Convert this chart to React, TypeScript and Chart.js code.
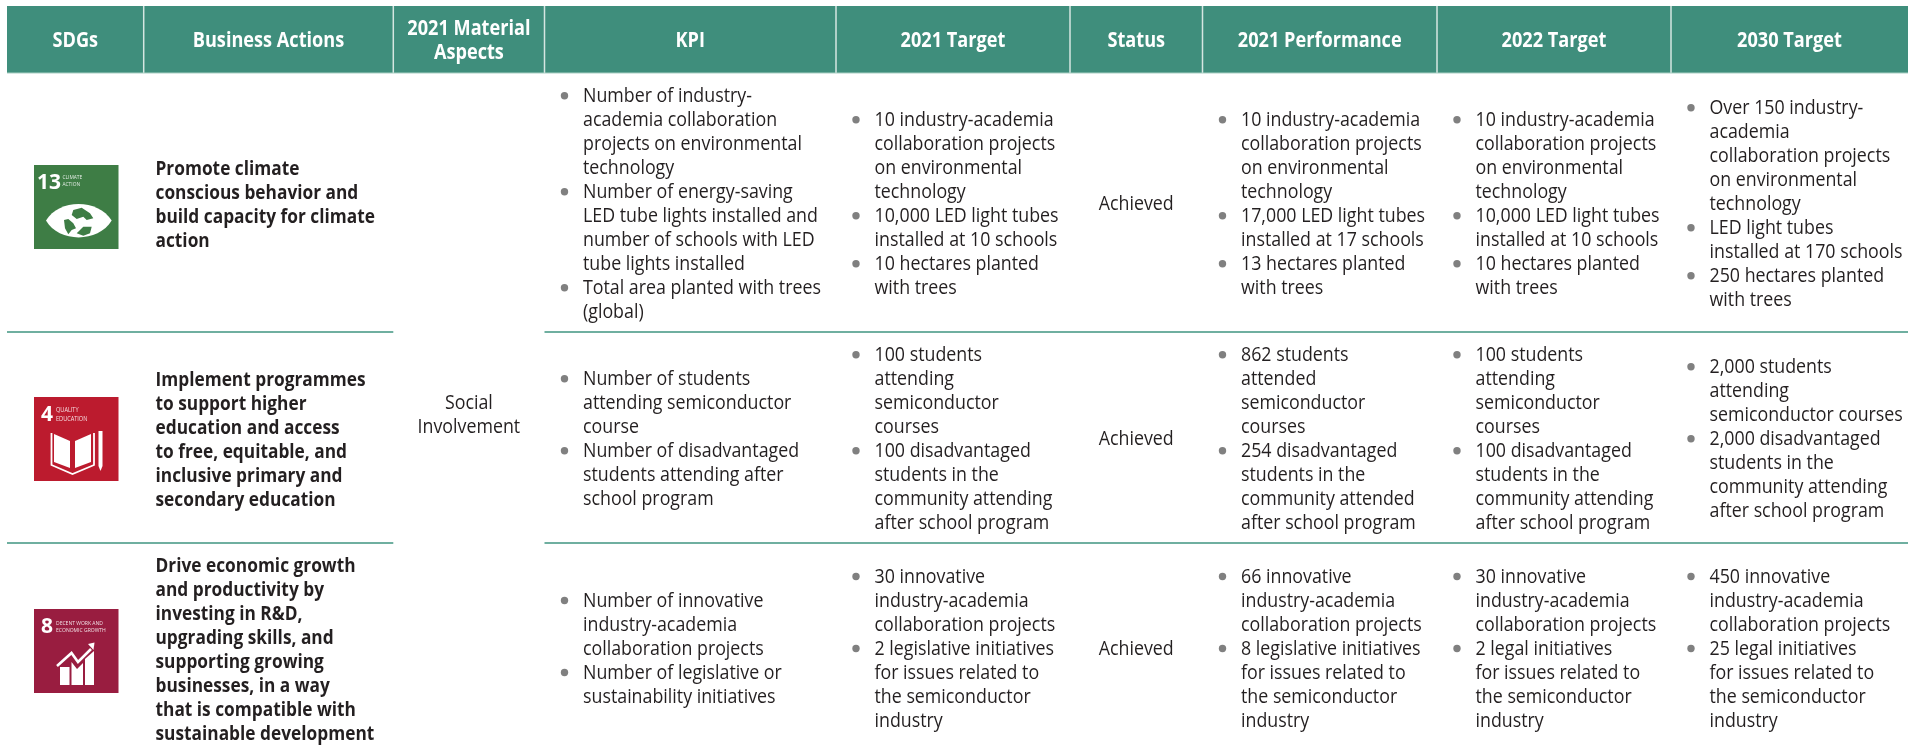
import React, { useEffect, useRef } from "react";
import { Chart, registerables } from "chart.js";

Chart.register(...registerables);

const headers: string[][] = [
  ["SDGs"], ["Business Actions"], ["2021 Material", "Aspects"], ["KPI"], ["2021 Target"],
  ["Status"], ["2021 Performance"], ["2022 Target"], ["2030 Target"],
];
const actions: string[][] = [
  ["Promote climate", "conscious behavior and", "build capacity for climate", "action"],
  ["Implement programmes", "to support higher", "education and access", "to free, equitable, and", "inclusive primary and", "secondary education"],
  ["Drive economic growth", "and productivity by", "investing in R&D,", "upgrading skills, and", "supporting growing", "businesses, in a way", "that is compatible with", "sustainable development"],
];
const aspect: string[] = ["Social", "Involvement"];
const statusValues: string[] = ["Achieved", "Achieved", "Achieved"];
const kpi: string[][][] = [
  [["Number of industry-", "academia collaboration", "projects on environmental", "technology"],
   ["Number of energy-saving", "LED tube lights installed and", "number of schools with LED", "tube lights installed"],
   ["Total area planted with trees", "(global)"]],
  [["Number of students", "attending semiconductor", "course"],
   ["Number of disadvantaged", "students attending after", "school program"]],
  [["Number of innovative", "industry-academia", "collaboration projects"],
   ["Number of legislative or", "sustainability initiatives"]],
];
const target2021: string[][][] = [
  [["10 industry-academia", "collaboration projects", "on environmental", "technology"],
   ["10,000 LED light tubes", "installed at 10 schools"],
   ["10 hectares planted", "with trees"]],
  [["100 students", "attending", "semiconductor", "courses"],
   ["100 disadvantaged", "students in the", "community attending", "after school program"]],
  [["30 innovative", "industry-academia", "collaboration projects"],
   ["2 legislative initiatives", "for issues related to", "the semiconductor", "industry"]],
];
const performance2021: string[][][] = [
  [["10 industry-academia", "collaboration projects", "on environmental", "technology"],
   ["17,000 LED light tubes", "installed at 17 schools"],
   ["13 hectares planted", "with trees"]],
  [["862 students", "attended", "semiconductor", "courses"],
   ["254 disadvantaged", "students in the", "community attended", "after school program"]],
  [["66 innovative", "industry-academia", "collaboration projects"],
   ["8 legislative initiatives", "for issues related to", "the semiconductor", "industry"]],
];
const target2022: string[][][] = [
  [["10 industry-academia", "collaboration projects", "on environmental", "technology"],
   ["10,000 LED light tubes", "installed at 10 schools"],
   ["10 hectares planted", "with trees"]],
  [["100 students", "attending", "semiconductor", "courses"],
   ["100 disadvantaged", "students in the", "community attending", "after school program"]],
  [["30 innovative", "industry-academia", "collaboration projects"],
   ["2 legal initiatives", "for issues related to", "the semiconductor", "industry"]],
];
const target2030: string[][][] = [
  [["Over 150 industry-", "academia", "collaboration projects", "on environmental", "technology"],
   ["LED light tubes", "installed at 170 schools"],
   ["250 hectares planted", "with trees"]],
  [["2,000 students", "attending", "semiconductor courses"],
   ["2,000 disadvantaged", "students in the", "community attending", "after school program"]],
  [["450 innovative", "industry-academia", "collaboration projects"],
   ["25 legal initiatives", "for issues related to", "the semiconductor", "industry"]],
];
const tileLabels: { num: string; lines: string[]; color: string }[] = [
  { num: "13", lines: ["CLIMATE", "ACTION"], color: "#3e7d45" },
  { num: "4", lines: ["QUALITY", "EDUCATION"], color: "#bc1b2e" },
  { num: "8", lines: ["DECENT WORK AND", "ECONOMIC GROWTH"], color: "#991d40" },
];

const columnEdges = [7, 143.7, 393.3, 544.5, 836, 1070, 1202.5, 1437, 1671, 1908];
const rowEdges = [6, 73, 332, 543];
const rowCenters = [203.7, 438.8, 648.5];
const bulletColumns: [number, string[][][]][] = [
  [3, kpi], [4, target2021], [6, performance2021], [7, target2022], [8, target2030],
];
const tileTops = [165, 397, 609];

const TEAL = "#3f8e7c";
const INK = "#231f20";
const LINE_H = 24;
const FONT = '"Open Sans"';
const BODY_SIZE = 19.5;
const BODY_SX = 0.913;
const BOLD_SX = 0.887;
const HEAD_SX = 0.885;

function text(ctx: CanvasRenderingContext2D, s: string, x: number, y: number, font: string, sx: number, color: string, align: CanvasTextAlign = "left") {
  ctx.save();
  ctx.font = font;
  ctx.fillStyle = color;
  ctx.textAlign = align;
  ctx.textBaseline = "alphabetic";
  ctx.translate(x, y);
  ctx.scale(sx, 1);
  ctx.fillText(s, 0, 0);
  ctx.restore();
}

function poly(ctx: CanvasRenderingContext2D, pts: number[][], fill = true) {
  ctx.beginPath();
  pts.forEach(([a, b], i) => (i ? ctx.lineTo(a, b) : ctx.moveTo(a, b)));
  if (fill) { ctx.closePath(); ctx.fill(); } else ctx.stroke();
}

function drawTile(ctx: CanvasRenderingContext2D, i: number, px: number, py: number) {
  const t = tileLabels[i];
  ctx.save();
  ctx.translate(px, py);
  ctx.fillStyle = t.color;
  ctx.fillRect(0, 0, 84.5, 84);
  ctx.fillStyle = "#fff";
  ctx.strokeStyle = "#fff";
  text(ctx, t.num, t.num.length > 1 ? 3 : 7, 23.5, `700 21px ${FONT}`, 1, "#fff");
  const tx = t.num.length > 1 ? 28.5 : 22;
  const sizes = [5.4, 6.2, 5.6];
  const baselines = [[13.5, 21], [15, 23.5], [16, 23]];
  const small = `400 ${sizes[i]}px ${FONT}`;
  text(ctx, t.lines[0], tx, baselines[i][0], small, 0.9, "rgba(255,255,255,.85)");
  text(ctx, t.lines[1], tx, baselines[i][1], small, 0.9, "rgba(255,255,255,.85)");
  if (i === 0) {
    ctx.beginPath();
    ctx.moveTo(12, 55.5);
    ctx.bezierCurveTo(25, 33.5, 64, 33.5, 77.7, 55.5);
    ctx.bezierCurveTo(64, 78, 25, 78, 12, 55.5);
    ctx.fill();
    ctx.fillStyle = t.color;
    poly(ctx, [[39.3, 45], [47.7, 42.7], [56, 48.3], [59.3, 53.3], [52.7, 55], [49.3, 51.7], [42.7, 54], [37.7, 50]]);
    poly(ctx, [[30, 55], [34.3, 54], [39.3, 58.3], [42, 63.3], [37.7, 65], [34.3, 69.3], [31, 63.3]]);
    poly(ctx, [[42.7, 68.3], [49.3, 61.7], [57.7, 61.7], [56, 68.3], [49.3, 70.7]]);
  } else if (i === 1) {
    poly(ctx, [[20, 37], [36, 44], [36, 71], [20, 65]]);
    poly(ctx, [[41, 44], [57, 37], [57, 65], [41, 71]]);
    ctx.lineWidth = 1.8;
    poly(ctx, [[17.5, 36], [17.5, 68], [38.5, 77], [60, 68], [60, 36]], false);
    poly(ctx, [[64.5, 34], [68.5, 34], [68.5, 69], [66.5, 74], [64.5, 69]]);
  } else {
    ctx.fillRect(26, 58, 9.5, 18);
    poly(ctx, [[37.5, 53], [43, 60], [49, 54], [49, 76], [37.5, 76]]);
    poly(ctx, [[51, 50], [60, 42], [60, 76], [51, 76]]);
    ctx.lineWidth = 2.6;
    poly(ctx, [[23, 57], [37.5, 44], [44, 53], [57, 40]], false);
    poly(ctx, [[54, 35], [60.5, 33.5], [59.5, 41]]);
  }
  ctx.restore();
}

const tablePlugin = {
  id: "tablePlugin",
  beforeDatasetsDraw(chart: any) {
    const { ctx, scales: { x, y } } = chart;
    ctx.save();
    const X = (v: number) => x.getPixelForValue(v);
    const Y = (v: number) => y.getPixelForValue(v);
    ctx.fillStyle = TEAL;
    ctx.fillRect(X(columnEdges[0]), Y(rowEdges[0]), X(1908) - X(columnEdges[0]), Y(rowEdges[1]) - Y(rowEdges[0]));
    ctx.fillStyle = "#d6e6e1";
    for (const e of columnEdges.slice(1, -1)) ctx.fillRect(X(e) - 0.75, Y(rowEdges[0]), 1.5, Y(rowEdges[1]) - Y(rowEdges[0]));
    ctx.fillStyle = "#a9cfc4";
    ctx.fillRect(X(columnEdges[0]), Y(rowEdges[1]) - 0.5, X(1908) - X(columnEdges[0]), 1);
    ctx.restore();
  },
  afterDatasetsDraw(chart: any) {
    const { ctx, scales: { x, y } } = chart;
    const X = (v: number) => x.getPixelForValue(v);
    const Y = (v: number) => y.getPixelForValue(v);
    const body = `400 ${BODY_SIZE}px ${FONT}`;
    const bold = `700 ${BODY_SIZE}px ${FONT}`;
    const head = `700 20.5px ${FONT}`;
    const base = 6.5;

    headers.forEach((lines, c) => {
      const cx = X((columnEdges[c] + columnEdges[c + 1]) / 2);
      lines.forEach((s, i) => {
        const cy = 40 + (i - (lines.length - 1) / 2) * LINE_H;
        text(ctx, s, cx, Y(cy) + base, head, HEAD_SX, "#fff", "center");
      });
    });

    actions.forEach((lines, r) => {
      lines.forEach((s, i) => {
        const cy = rowCenters[r] + 1 + (i - (lines.length - 1) / 2) * LINE_H;
        text(ctx, s, X(155.5), Y(cy) + base, bold, BOLD_SX, INK);
      });
    });

    aspect.forEach((s, i) => {
      const cy = 414.5 + (i - 0.5) * LINE_H;
      text(ctx, s, X((columnEdges[2] + columnEdges[3]) / 2), Y(cy) + base, body, BODY_SX, INK, "center");
    });

    statusValues.forEach((s, r) => {
      text(ctx, s, X((columnEdges[5] + columnEdges[6]) / 2), Y(rowCenters[r]) + base, body, BODY_SX, INK, "center");
    });

    bulletColumns.forEach(([c, table]) => {
      table.forEach((cell, r) => {
        const lines = cell.flat();
        lines.forEach((s, i) => {
          const cy = rowCenters[r] + (i - (lines.length - 1) / 2) * LINE_H;
          text(ctx, s, X(columnEdges[c] + 38.5), Y(cy) + base, body, BODY_SX, INK);
        });
      });
    });

    tileTops.forEach((top, i) => drawTile(ctx, i, X(34), Y(top)));
  },
};

function bulletPoints() {
  const pts: { x: number; y: number }[] = [];
  bulletColumns.forEach(([c, table]) => {
    table.forEach((cell, r) => {
      const total = cell.flat().length;
      let idx = 0;
      cell.forEach((b) => {
        pts.push({ x: columnEdges[c] + 20, y: rowCenters[r] + (idx - (total - 1) / 2) * LINE_H });
        idx += b.length;
      });
    });
  });
  return pts;
}

function ruleSegments() {
  const out: any[] = [];
  [rowEdges[2], rowEdges[3]].forEach((yv) => {
    [[columnEdges[0], columnEdges[2]], [columnEdges[3], 1908]].forEach(([a, b]) => {
      out.push({
        type: "line", data: [{ x: a, y: yv }, { x: b, y: yv }],
        borderColor: "#3f9480", borderWidth: 1.5, pointRadius: 0, fill: false, tension: 0,
      });
    });
  });
  return out;
}

export default function App() {
  const ref = useRef<HTMLCanvasElement | null>(null);
  useEffect(() => {
    if (!ref.current) return;
    const chart = new Chart(ref.current, {
      type: "scatter",
      data: {
        datasets: [
          ...ruleSegments(),
          {
            type: "scatter",
            data: bulletPoints(),
            backgroundColor: "#808080",
            borderWidth: 0,
            pointRadius: 3.7,
            pointStyle: "circle",
          },
        ],
      } as any,
      options: {
        animation: false,
        responsive: false,
        devicePixelRatio: 1,
        layout: { padding: 0, autoPadding: false },
        plugins: { legend: { display: false }, tooltip: { enabled: false } },
        scales: {
          x: { type: "linear", min: 0, max: 1908, display: false },
          y: { type: "linear", min: 0, max: 750, reverse: true, display: false },
        },
      },
      plugins: [tablePlugin],
    } as any);
    return () => chart.destroy();
  }, []);
  return (
    <div style={{ position: "fixed", left: 0, top: 0, width: 1908, height: 750, background: "#fff" }}>
      <canvas ref={ref} width={1908} height={750} style={{ display: "block", width: 1908, height: 750 }} />
    </div>
  );
}
